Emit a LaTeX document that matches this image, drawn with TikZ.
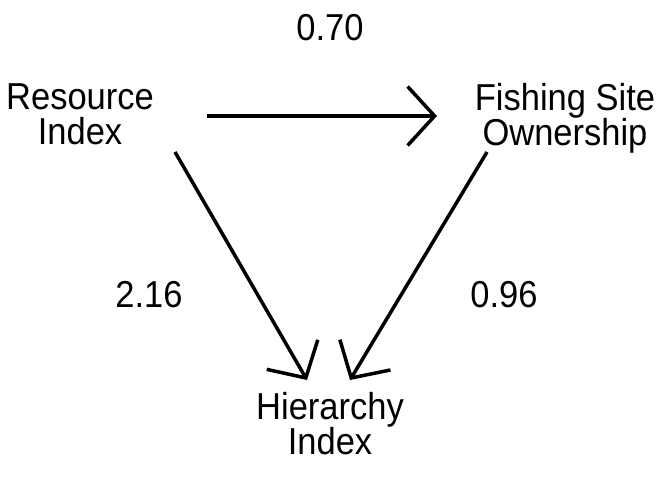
\documentclass[tikz,border=0pt]{standalone}
\usepackage{fontspec}
\setmainfont[FakeStretch=0.92]{Liberation Sans}
\usetikzlibrary{arrows.meta}
\begin{document}
\begin{tikzpicture}[x=1pt,y=-1pt,
  lbl/.style={anchor=north,inner sep=0pt,align=center,font=\fontsize{37.5}{35}\selectfont},
  arr/.style={line width=3.5pt,-{Straight Barb[angle=95:40pt]}}]
\useasboundingbox (0,0) rectangle (665,477);
\node[lbl] (ri) at (80,83) {Resource\\Index};
\node[lbl] (fs) at (565,83) {Fishing Site\\Ownership};
\node[lbl] (hi) at (330,392) {Hierarchy\\Index};
\node[lbl] (w1) at (330,14) {0.70};
\node[lbl] (w2) at (149,281) {2.16};
\node[lbl] (w3) at (504,281) {0.96};
\draw[arr] ([shift={(127,33)}]ri.north) -- ([shift={(-128,33)}]fs.north);
\draw[arr] ([shift={(95,69)}]ri.north) -- ([shift={(-23,-12)}]hi.north);
\draw[arr] ([shift={(-78,69)}]fs.north) -- ([shift={(20,-12)}]hi.north);
\end{tikzpicture}
\end{document}
